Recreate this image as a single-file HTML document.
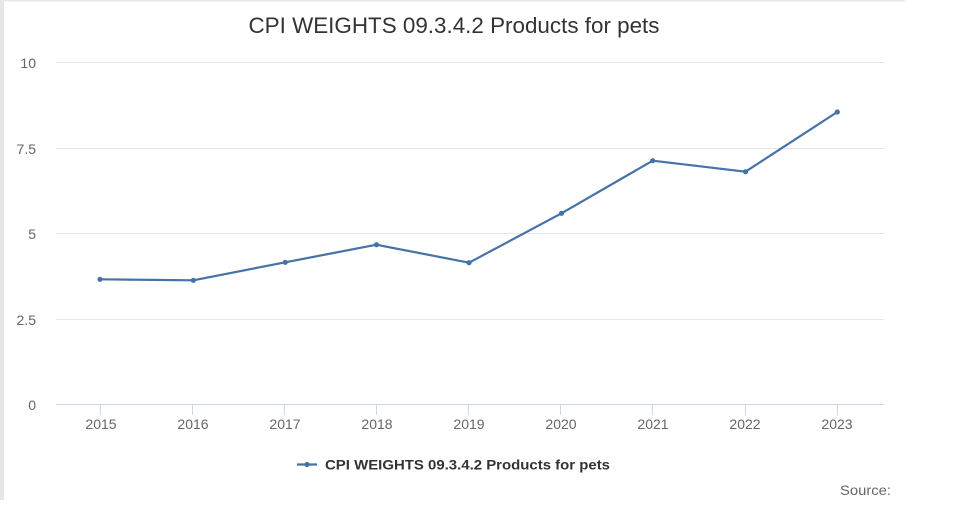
<!DOCTYPE html>
<html><head><meta charset="utf-8"><style>
html,body{margin:0;padding:0;background:#fff;}
svg{display:block;}
text{font-family:"Liberation Sans",Arial,sans-serif;}
</style></head><body>
<svg width="955" height="508" viewBox="0 0 955 508" xmlns="http://www.w3.org/2000/svg">
<rect x="0" y="0" width="955" height="508" fill="#fff"/>
<rect x="0" y="0" width="4" height="500" fill="#e6e6e6"/>
<rect x="0" y="0" width="905" height="1.5" fill="#e8e8e8"/>
<text x="454" y="33" font-size="22" fill="#333" text-anchor="middle" textLength="411" lengthAdjust="spacingAndGlyphs">CPI WEIGHTS 09.3.4.2 Products for pets</text>
<g stroke="#e6e6e6" stroke-width="1">
<line x1="56" y1="62.5" x2="884" y2="62.5"/>
<line x1="56" y1="148.5" x2="884" y2="148.5"/>
<line x1="56" y1="233.5" x2="884" y2="233.5"/>
<line x1="56" y1="319.5" x2="884" y2="319.5"/>
</g>
<line x1="56" y1="404.5" x2="884" y2="404.5" stroke="#ccd6eb" stroke-width="1"/>
<g stroke="#ccd6eb" stroke-width="1">
<line x1="100.5" y1="405" x2="100.5" y2="415"/>
<line x1="192.5" y1="405" x2="192.5" y2="415"/>
<line x1="284.5" y1="405" x2="284.5" y2="415"/>
<line x1="376.5" y1="405" x2="376.5" y2="415"/>
<line x1="468.5" y1="405" x2="468.5" y2="415"/>
<line x1="560.5" y1="405" x2="560.5" y2="415"/>
<line x1="652.5" y1="405" x2="652.5" y2="415"/>
<line x1="745.5" y1="405" x2="745.5" y2="415"/>
<line x1="837.5" y1="405" x2="837.5" y2="415"/>
</g>
<g font-size="14" fill="#666" text-anchor="end">
<text x="36" y="68">10</text>
<text x="36" y="154">7.5</text>
<text x="36" y="239">5</text>
<text x="36" y="325">2.5</text>
<text x="36" y="410">0</text>
</g>
<g font-size="14" fill="#666" text-anchor="middle">
<text x="101" y="429">2015</text>
<text x="193" y="429">2016</text>
<text x="285" y="429">2017</text>
<text x="377" y="429">2018</text>
<text x="469" y="429">2019</text>
<text x="561" y="429">2020</text>
<text x="653" y="429">2021</text>
<text x="745" y="429">2022</text>
<text x="837" y="429">2023</text>
</g>
<polyline fill="none" stroke="#4572a7" stroke-width="2.2" stroke-linejoin="round" stroke-linecap="round"
points="100,279.3 193.3,280.3 285.3,262.3 376.5,244.7 469,262.7 561.5,213.3 652.7,160.7 745.5,171.7 837.3,112"/>
<g fill="#4572a7">
<circle cx="100" cy="279.3" r="2.6"/>
<circle cx="193.3" cy="280.3" r="2.6"/>
<circle cx="285.3" cy="262.3" r="2.6"/>
<circle cx="376.5" cy="244.7" r="2.6"/>
<circle cx="469" cy="262.7" r="2.6"/>
<circle cx="561.5" cy="213.3" r="2.6"/>
<circle cx="652.7" cy="160.7" r="2.6"/>
<circle cx="745.5" cy="171.7" r="2.6"/>
<circle cx="837.3" cy="112" r="2.6"/>
</g>
<line x1="297" y1="464.5" x2="317" y2="464.5" stroke="#4572a7" stroke-width="2.2"/>
<circle cx="307" cy="464.5" r="2.6" fill="#4572a7"/>
<text x="325" y="469.5" font-size="13.5" font-weight="bold" fill="#333" textLength="285" lengthAdjust="spacingAndGlyphs">CPI WEIGHTS 09.3.4.2 Products for pets</text>
<text x="840" y="495" font-size="14" fill="#666" textLength="51" lengthAdjust="spacingAndGlyphs">Source:</text>
</svg>
</body></html>
